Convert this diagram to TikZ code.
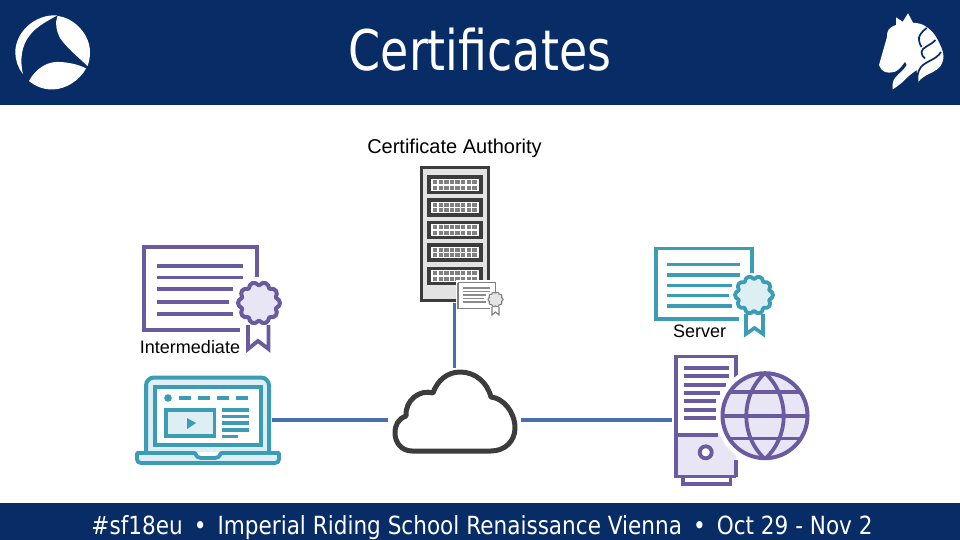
\documentclass[tikz,border=0pt]{standalone}
\usepackage{fontspec}
\setmainfont{Liberation Sans}
\newfontfamily\tahT[FakeStretch=0.82]{DejaVu Sans}
\newfontfamily\tahF[FakeStretch=0.863]{DejaVu Sans}
\definecolor{navy}{HTML}{082C65}
\definecolor{purp}{HTML}{6A5BA0}
\definecolor{purpl}{HTML}{E8E6F4}
\definecolor{teal1}{HTML}{3A9DB5}
\definecolor{teall}{HTML}{DDEEF4}
\definecolor{link}{HTML}{4A6FAD}
\definecolor{dark}{HTML}{3C3C3C}
\newcommand{\sealmark}[6]{% cx cy r stroke color fill
  \draw[#5,line width=#4,fill=#6,line join=round] plot[smooth cycle,domain=0:351,samples=40] ({#1+(#3*0.84+#3*0.16*abs(cos(5*\x)))*cos(\x)},{#2+(#3*0.84+#3*0.16*abs(cos(5*\x)))*sin(\x)});}
\tikzset{
  anchorbox/.style={inner sep=0,outer sep=0,minimum width=#1},
  linkline/.style={link,line width=3.4pt},
  label/.style={font=\fontsize{18}{20}\selectfont,text=black,inner sep=0},
  barText/.style={text=white,inner sep=0},
}
\begin{document}
\begin{tikzpicture}[x=1pt,y=-1pt]
\useasboundingbox (0,0) rectangle (960,540);
\fill[white] (0,0) rectangle (960,540);
\fill[navy] (0,0) rectangle (960,105);
\fill[navy] (0,503) rectangle (960,540);
\node[barText,font=\tahT\fontsize{56}{60}\selectfont] (title) at (480,50) {Certificates};
\node[barText,font=\tahF\fontsize{25}{28}\selectfont] (foot) at (482,527.5) {\#sf18eu \,•\, Imperial Riding School Renaissance Vienna \,•\, Oct 29 - Nov 2};
% shark logo
\fill[white] (57.5,16) .. controls (75,18) and (90,35) .. (90,52) .. controls (90,58) and (89,62) .. (87.5,66) .. controls (78,57) and (66,47) .. (60,38) .. controls (56,30) and (55,22) .. (57.5,16) -- cycle;
\fill[white] (57.5,15.3) .. controls (35,14) and (15,32) .. (15.3,53) .. controls (15.5,60) and (18,68) .. (22.8,74) .. controls (20,60) and (21,46) .. (30,35) .. controls (36,27) and (47,21) .. (57.5,15.3) -- cycle;
\fill[white] (29,81) .. controls (36,68) and (48,61) .. (60,62) .. controls (70,62.5) and (80,65) .. (86,68.5) .. controls (80,80) and (66,89.5) .. (52,89.5) .. controls (43,89.5) and (35,86) .. (29,81) -- cycle;
% horse logo
\fill[white] (879,65) -- (887,37) .. controls (887,31) and (888,28) .. (896,25) -- (896,17.3) -- (902.7,21.7) -- (908,13.3) -- (913,22.7) .. controls (918,23) and (922,24) .. (925,26) .. controls (930,29) and (934,33) .. (936.7,38) .. controls (940,44) and (943,50) .. (943.5,56) .. controls (943.5,60) and (942,64) .. (940,66.7) .. controls (936,71) and (931,73) .. (926.7,75) .. controls (922,78) and (919,80) .. (918,83) -- (916.7,70) .. controls (911,74) and (906,78) .. (903,81.7) .. controls (899,85) and (895,88) .. (892.7,89.3) .. controls (892,85) and (893,80) .. (895,78) .. controls (899,73) and (904,70) .. (906.7,65) -- (905,61.7) .. controls (902,66) and (899,70) .. (895,71.7) .. controls (892,72.5) and (888,73) .. (885,72) .. controls (882,71) and (880,68) .. (879,65) -- cycle;
\draw[navy,line width=1.7pt] (926.7,28) .. controls (921,32) and (918,37) .. (919,40) .. controls (919.5,43) and (920,45) .. (921.5,47)
  (935.5,40) .. controls (930,46) and (922,47) .. (921.5,52) .. controls (921.5,55) and (923,57) .. (925,58.5)
  (941,52) .. controls (936,60) and (926,61) .. (921,67) .. controls (917,72) and (917,78) .. (918,84);
% connectors' end nodes
\node[anchorbox=70,minimum height=137] (ca) at (454.5,234.5) {};
\node[anchorbox=133,minimum height=104] (cloud) at (454.5,420) {};
\node[anchorbox=137,minimum height=88] (laptop) at (203.5,420) {};
\node[anchorbox=136,minimum height=130] (server) at (740,420) {};
\draw[linkline] (ca.south) -- (cloud.north);
\draw[linkline] (laptop.east) -- (cloud.west);
\draw[linkline] (cloud.east) -- (server.west);
% CA rack
\draw[dark,line width=3.6pt,fill=black!11] (421.5,167.5) rectangle (488.5,300.5);
\foreach \y in {175.5,198,220.5,243,266.5}{
  \fill[dark] (427,\y) rectangle (483,\y+18.5);
  \fill[white] (431,\y+3.5) rectangle (479,\y+15);
  \foreach \i in {0,...,7}{
    \fill[gray] (433+\i*5.6,\y+4.5) rectangle +(4.4,4);
    \fill[gray] (433+\i*5.6,\y+10) rectangle +(4.4,4);
  }
}
% small certificate
\fill[white] (456,280) rectangle (504,318);
\draw[gray,line width=1.1pt] (458,282.5) -- (495.5,282.5) -- (495.5,292) (490,308.5) -- (458,308.5) -- (458,282.5);
\foreach \y/\x in {288/490,291.5/490,295/486,298.5/484,302/486}{\draw[gray!90,line width=1.1pt] (463,\y) -- (\x,\y);}
\sealmark{495.5}{299.5}{7.5}{1.1pt}{gray}{black!10}
\draw[gray,line width=1.1pt] (492,307) -- (492,315) -- (495.5,312) -- (499,315) -- (499,307);
% intermediate certificate
\draw[purp,line width=4pt] (240,330) -- (143.5,330) -- (143.5,247) -- (256.5,247) -- (256.5,277);
\foreach \y/\x in {266/243,277.5/243,289/233,302/229,314/233}{\draw[purp,line width=3.6pt] (157,\y) -- (\x,\y);}
\sealmark{259}{303}{21}{4pt}{purp}{purpl}
\draw[purp,line width=3.8pt] (248,325) -- (248,349) -- (258,341) -- (268.5,349) -- (268.5,325);
\node[label] (interm) at (190,347) {Intermediate};
% server certificate
\draw[teal1,line width=3.8pt] (739,319) -- (656,319) -- (656,248.5) -- (752,248.5) -- (752,273);
\foreach \y/\x in {264.5/740,275/740,285.5/732,295.7/729,306/732}{\draw[teal1,line width=3.4pt] (667,\y) -- (\x,\y);}
\sealmark{754}{295}{19}{3.8pt}{teal1}{teall}
\draw[teal1,line width=3.6pt] (746,314) -- (746,334) -- (754.5,328) -- (763,334) -- (763,314);
\node[label] (serverlab) at (699.5,331) {Server};
% cloud
\draw[dark,line width=5pt,line join=round,fill=white] (412,451) -- (491,451) .. controls (505,451) and (515,441) .. (515,428) .. controls (515,412) and (503,398) .. (491,397) .. controls (487,382) and (475,372) .. (460,372) .. controls (447,372) and (437,381) .. (433,393) .. controls (420,389) and (405,400) .. (406,416) .. controls (398,419) and (395,425) .. (395,433) .. controls (395,443) and (402,451) .. (412,451) -- cycle;
% laptop
\draw[teal1,line width=4pt,fill=teall,rounded corners=8pt] (146,452) -- (146,377.5) -- (269,377.5) -- (269,452);
\draw[teal1,line width=4pt,fill=white] (155,386.5) rectangle (261,445);
\fill[teal1] (168,398) circle (3.8);
\foreach \a/\b in {179/191,198/210,217/229,236/248}{\draw[teal1,line width=3.6pt] (\a,398) -- (\b,398);}
\draw[teal1,line width=3.6pt,fill=teall] (166,410) rectangle (214.5,436);
\fill[teal1] (187,418) -- (196,423) -- (187,429) -- cycle;
\foreach \y/\x in {410/249,416.5/249,423/249,430/249,436.5/238}{\draw[teal1,line width=3.6pt] (222,\y) -- (\x,\y);}
\draw[teal1,line width=3.8pt,fill=teall,line join=round] (137,453) -- (195,453) .. controls (197,457) and (198,458) .. (201,458) -- (215,458) .. controls (218,458) and (219,457) .. (221,453) -- (279,453) -- (279,459) .. controls (279,461) and (278,463) .. (275,463) -- (141,463) .. controls (138,463) and (137,461) .. (137,459) -- cycle;
% server tower
\fill[purpl] (676,435) rectangle (736,476);
\draw[purp,line width=3.8pt] (736,476.5) -- (676,476.5) -- (676,356.5) -- (736,356.5) -- (736,380);
\draw[purp,line width=3.8pt] (736,460) -- (736,476.5);
\draw[purp,line width=3.8pt] (676,435) -- (718,435);
\draw[purp,line width=3.8pt] (683,477) -- (683,484) -- (730.5,484) -- (730.5,477);
\foreach \y/\x in {367.7/729,376/729,384.7/726,392.7/720,401/716,409.7/716,418/716}{\draw[purp,line width=3.6pt] (684,\y) -- (\x,\y);}
\draw[purp,line width=3.8pt,fill=white] (705.7,452.3) circle (6);
% globe
\fill[white] (765,415.7) circle (49);
\begin{scope}
\fill[purpl] (765,415.7) circle (42.5);
\clip (765,415.7) circle (42.5);
\draw[purp,line width=3.6pt] (722,392) -- (808,392) (722,415.7) -- (808,415.7) (722,438.5) -- (808,438.5);
\draw[purp,line width=3.8pt] (765,373) .. controls (740,396) and (740,436) .. (765,459) .. controls (790,436) and (790,396) .. (765,373) -- cycle;
\end{scope}
\draw[purp,line width=4pt] (765,415.7) circle (42.5);
\node[label,font=\fontsize{20}{22}\selectfont] (calab) at (454.5,148.5) {Certificate Authority};
\end{tikzpicture}
\end{document}
